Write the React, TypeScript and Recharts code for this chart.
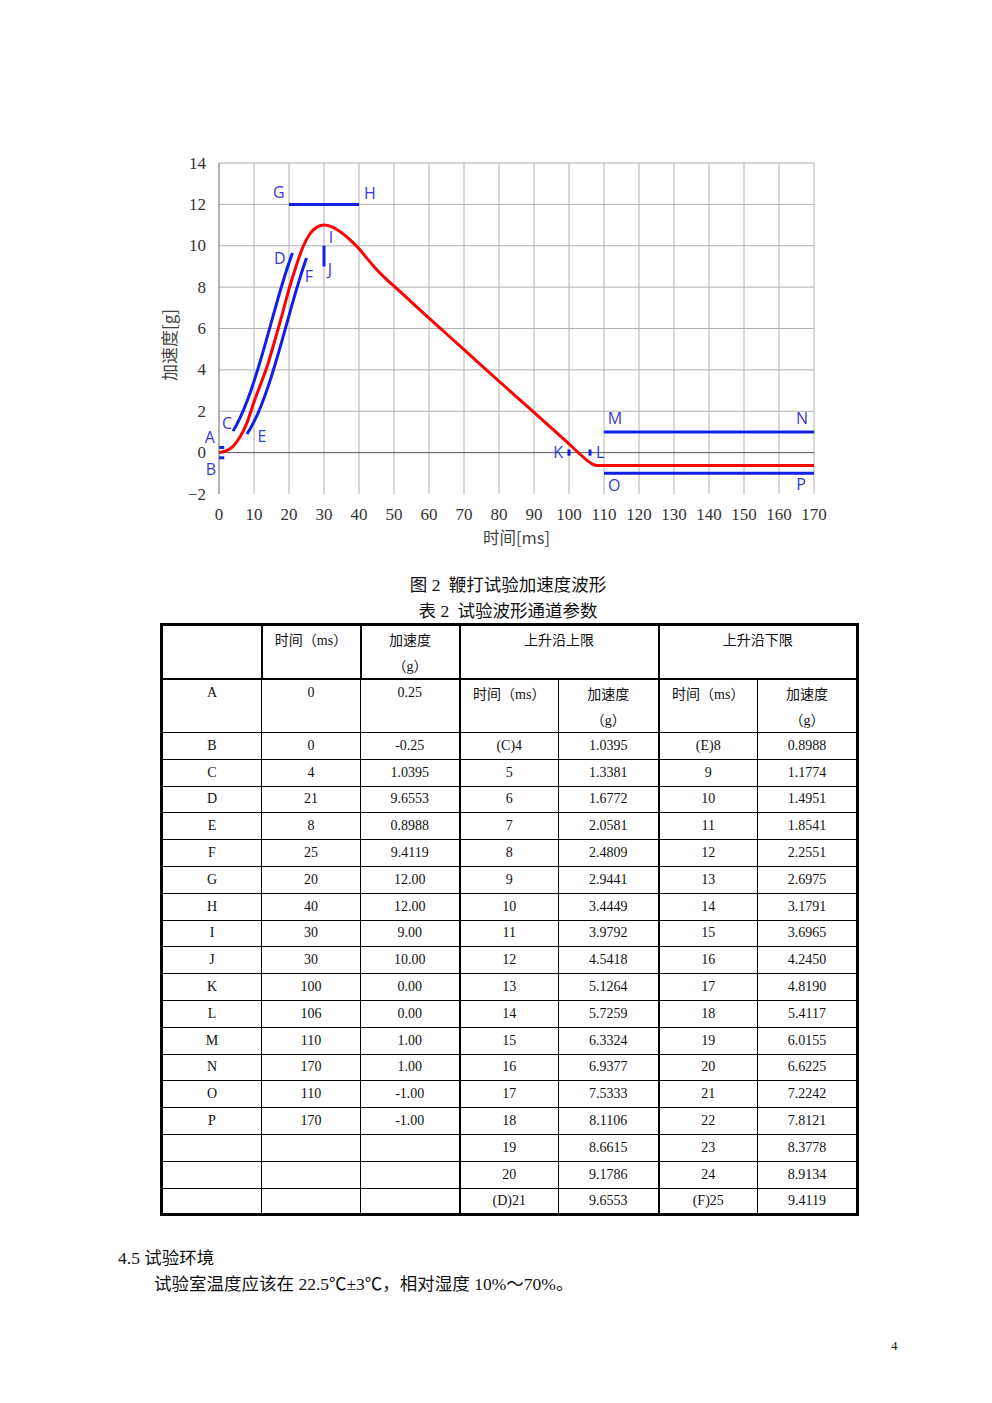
import React from "react";
import { LineChart, Line, XAxis, YAxis, ReferenceLine, ReferenceDot } from "recharts";

// axis ticks
const xTicks = [0, 10, 20, 30, 40, 50, 60, 70, 80, 90, 100, 110, 120, 130, 140, 150, 160, 170];
const yTicks = [-2, 0, 2, 4, 6, 8, 10, 12, 14];

// channel points (table 2)
const pointNames = ["A", "B", "C", "D", "E", "F", "G", "H", "I", "J", "K", "L", "M", "N", "O", "P"];
const pointTimes = [0, 0, 4, 21, 8, 25, 20, 40, 30, 30, 100, 106, 110, 170, 110, 170];
const pointAccels = ["0.25", "-0.25", "1.0395", "9.6553", "0.8988", "9.4119", "12.00", "12.00", "9.00", "10.00", "0.00", "0.00", "1.00", "1.00", "-1.00", "-1.00"];

// rising edge upper limit (C -> D)
const upperTimes = [4, 5, 6, 7, 8, 9, 10, 11, 12, 13, 14, 15, 16, 17, 18, 19, 20, 21];
const upperAccels = ["1.0395", "1.3381", "1.6772", "2.0581", "2.4809", "2.9441", "3.4449", "3.9792", "4.5418", "5.1264", "5.7259", "6.3324", "6.9377", "7.5333", "8.1106", "8.6615", "9.1786", "9.6553"];

// rising edge lower limit (E -> F)
const lowerTimes = [8, 9, 10, 11, 12, 13, 14, 15, 16, 17, 18, 19, 20, 21, 22, 23, 24, 25];
const lowerAccels = ["0.8988", "1.1774", "1.4951", "1.8541", "2.2551", "2.6975", "3.1791", "3.6965", "4.2450", "4.8190", "5.4117", "6.0155", "6.6225", "7.2242", "7.8121", "8.3778", "8.9134", "9.4119"];

const waveTimes = [0, 2, 4, 6, 8, 10, 12, 14, 16, 18, 20, 22, 24, 26, 28, 30, 32, 34, 36, 38, 40, 42, 44, 46, 48, 50, 60, 70, 80, 90, 100, 103, 105, 106, 107, 108, 110, 170];
const waveAccels = [0, 0.08, 0.3, 0.75, 1.45, 2.45, 3.35, 4.3, 5.45, 6.65, 7.9, 9.0, 9.95, 10.58, 10.9, 11.0, 10.93, 10.75, 10.5, 10.2, 9.85, 9.45, 9.05, 8.68, 8.35, 8.05, 6.5, 4.98, 3.45, 1.95, 0.42, -0.05, -0.35, -0.48, -0.58, -0.62, -0.62, -0.62];

const BLUE = "#1020e6";
const LABEL_BLUE = "#3a3ad0";
const RED = "#ff0000";
const GRID = "#b0b0b0";

const pt = (name: string) => {
  const i = pointNames.indexOf(name);
  return { x: pointTimes[i], y: parseFloat(pointAccels[i]) };
};
const series = (ts: number[], vs: (string | number)[]) => ts.map((t, i) => ({ x: t, y: Number(vs[i]) }));

const wave = series(waveTimes, waveAccels);
const upper = series(upperTimes, upperAccels);
const lower = series(lowerTimes, lowerAccels);
const seg = (a: string, b: string) => [pt(a), pt(b)];
const hTick = (n: string) => [pt(n), { x: pt(n).x + 1.5, y: pt(n).y }];
const vTick = (n: string) => [{ x: pt(n).x, y: -0.15 }, { x: pt(n).x, y: 0.15 }];

const blueSegments = [
  seg("G", "H"), seg("I", "J"), seg("M", "N"), seg("O", "P"),
  hTick("A"), hTick("B"), vTick("K"), vTick("L"), upper, lower,
];

// letter placement (data units)
const labelPos: Record<string, [number, number]> = {
  A: [-2.6, 0.77], B: [-2.3, -0.77], C: [2.3, 1.45], D: [17.4, 9.4], E: [12.3, 0.82], F: [25.7, 8.55],
  G: [17.1, 12.6], H: [43.1, 12.56], I: [32, 10.43], J: [31.7, 8.9], K: [96.9, 0.05], L: [108.9, 0.05],
  M: [113.1, 1.69], N: [166.6, 1.69], O: [112.9, -1.55], P: [166.3, -1.5],
};

const tickStyle: React.CSSProperties = { fontFamily: "'Liberation Serif', serif", fontSize: 17 };

const XTick = (p: any) => (
  <text x={p.x} y={p.y + 20} textAnchor="middle" dominantBaseline="central" fill="#333" style={tickStyle}>
    {p.payload.value}
  </text>
);
const YTick = (p: any) => (
  <text x={p.x - 13} y={p.y} textAnchor="end" dominantBaseline="central" fill="#333" style={tickStyle}>
    {p.payload.value < 0 ? "\u2212" + Math.abs(p.payload.value) : p.payload.value}
  </text>
);

function WaveChart() {
  return (
    <LineChart width={700} height={414} margin={{ top: 23, right: 36, left: 0, bottom: 0 }}>
      <XAxis
        type="number"
        dataKey="x"
        domain={[0, 170]}
        ticks={xTicks}
        axisLine={false}
        tickLine={false}
        tickSize={0}
        tickMargin={0}
        height={60}
        tick={XTick}
        interval={0}
        label={{
          content: (props: any) => (
            <text x={props.viewBox.x + props.viewBox.width / 2} y={props.viewBox.y + 43} textAnchor="middle"
              dominantBaseline="central" fill="#444" style={{ fontFamily: "'Noto Sans CJK SC', sans-serif", fontSize: 16.5 }}>
              时间[ms]
            </text>
          ),
        }}
      />
      <YAxis
        type="number"
        dataKey="y"
        domain={[-2, 14]}
        ticks={yTicks}
        width={69}
        axisLine={{ stroke: "#666", strokeWidth: 1 }}
        tickLine={false}
        tickSize={0}
        tickMargin={0}
        tick={YTick}
        interval={0}
        label={{
          content: () => (
            <text x={18} y={205} transform="rotate(-90 18 205)" textAnchor="middle" dominantBaseline="central"
              fill="#444" style={{ fontFamily: "'Noto Sans CJK SC', sans-serif", fontSize: 17 }}>
              加速度[g]
            </text>
          ),
        }}
      />
      {xTicks.filter((v) => v > 0).map((v) => (
        <ReferenceLine key={"gx" + v} x={v} stroke={GRID} strokeWidth={1} />
      ))}
      {yTicks.filter((v) => v > 0).map((v) => (
        <ReferenceLine key={"gy" + v} y={v} stroke={GRID} strokeWidth={1} />
      ))}
      <ReferenceLine y={0} stroke="#555" strokeWidth={1} />

      {blueSegments.map((d, i) => (
        <Line key={"b" + i} data={d} dataKey="y" type="linear" stroke={BLUE} strokeWidth={3}
          dot={false} activeDot={false} isAnimationActive={false} />
      ))}
      <Line data={wave} dataKey="y" type="monotone" stroke={RED} strokeWidth={3}
        dot={false} activeDot={false} isAnimationActive={false} />

      {pointNames.map((n) => (
        <ReferenceDot key={"l" + n} x={labelPos[n][0]} y={labelPos[n][1]} r={0} ifOverflow="visible"
          shape={(p: any) => (
            <text x={p.cx} y={p.cy} textAnchor="middle" dominantBaseline="central" fill={LABEL_BLUE}
              style={{ fontFamily: "'Open Sans', sans-serif", fontSize: 16 }}>
              {n}
            </text>
          )}
        />
      ))}
    </LineChart>
  );
}

const serif = "'Liberation Serif', 'Noto Sans CJK SC', serif";
const cjk = "'Noto Sans CJK SC', sans-serif";
const colW = [100, 99, 99, 99, 100, 99, 100];
const thick = "2px solid #000";

const cell = (extra: React.CSSProperties = {}): React.CSSProperties => ({
  border: "1px solid #000",
  textAlign: "center",
  padding: 0,
  fontFamily: serif,
  fontSize: 14,
  color: "#111",
  overflow: "hidden",
  ...extra,
});

// one line of header text, fixed height so mixed fonts don't grow the row
const L = ({ children }: { children: React.ReactNode }) => (
  <div style={{ height: 26, lineHeight: "26px", whiteSpace: "nowrap" }}>{children}</div>
);
const TimeHead = () => (
  <L><span style={{ fontFamily: cjk }}>时间（</span>ms<span style={{ fontFamily: cjk }}>）</span></L>
);
const AccHead = () => (
  <>
    <L><span style={{ fontFamily: cjk }}>加速度</span></L>
    <L><span style={{ fontFamily: cjk }}>（</span>g<span style={{ fontFamily: cjk }}>）</span></L>
  </>
);

function ParamTable() {
  const top: React.CSSProperties = { verticalAlign: "top", paddingTop: 0 };
  const rows = upperTimes.map((t, i) => {
    const pi = i + 1; // points B..P
    const hasPoint = pi < pointNames.length;
    const up = (i === 0 ? "(C)" : i === upperTimes.length - 1 ? "(D)" : "") + t;
    const lo = (i === 0 ? "(E)" : i === lowerTimes.length - 1 ? "(F)" : "") + lowerTimes[i];
    return (
      <tr key={i} style={{ height: 26.8 }}>
        <td style={cell()}>{hasPoint ? pointNames[pi] : ""}</td>
        <td style={cell()}>{hasPoint ? pointTimes[pi] : ""}</td>
        <td style={cell({ borderRight: thick })}>{hasPoint ? pointAccels[pi] : ""}</td>
        <td style={cell()}>{up}</td>
        <td style={cell({ borderRight: thick })}>{upperAccels[i]}</td>
        <td style={cell()}>{lo}</td>
        <td style={cell()}>{lowerAccels[i]}</td>
      </tr>
    );
  });
  return (
    <table style={{ position: "absolute", left: 160, top: 623, borderCollapse: "collapse", border: "3px solid #000", tableLayout: "fixed", width: 697 }}>
      <colgroup>
        {colW.map((w, i) => <col key={i} style={{ width: w }} />)}
      </colgroup>
      <tbody>
        <tr style={{ height: 53 }}>
          <td style={cell({ borderBottom: thick, borderRight: thick })}></td>
          <td style={cell({ ...top, borderBottom: thick, borderRight: thick })}><TimeHead /></td>
          <td style={cell({ ...top, borderBottom: thick, borderRight: thick })}><AccHead /></td>
          <td colSpan={2} style={cell({ ...top, borderBottom: thick, borderRight: thick })}><L><span style={{ fontFamily: cjk }}>上升沿上限</span></L></td>
          <td colSpan={2} style={cell({ ...top, borderBottom: thick })}><L><span style={{ fontFamily: cjk }}>上升沿下限</span></L></td>
        </tr>
        <tr style={{ height: 53 }}>
          <td style={cell(top)}><L>{pointNames[0]}</L></td>
          <td style={cell(top)}><L>{pointTimes[0]}</L></td>
          <td style={cell({ ...top, borderRight: thick })}><L>{pointAccels[0]}</L></td>
          <td style={cell(top)}><TimeHead /></td>
          <td style={cell({ ...top, borderRight: thick })}><AccHead /></td>
          <td style={cell(top)}><TimeHead /></td>
          <td style={cell(top)}><AccHead /></td>
        </tr>
        {rows}
      </tbody>
    </table>
  );
}

export default function App() {
  const text: React.CSSProperties = { position: "absolute", whiteSpace: "nowrap", color: "#111", fontFamily: serif, fontSize: 17.5, lineHeight: "20px" };
  return (
    <div style={{ position: "relative", width: 992, height: 1403, background: "#fff" }}>
      <style>{"body{margin:0}"}</style>
      <div style={{ position: "absolute", left: 150, top: 140 }}>
        <WaveChart />
      </div>
      <div style={{ ...text, left: 0, width: 1016, textAlign: "center", top: 574 }}>
        <span style={{ fontFamily: cjk }}>图</span> 2 <span style={{ fontFamily: cjk }}>&nbsp;鞭打试验加速度波形</span>
      </div>
      <div style={{ ...text, left: 0, width: 1016, textAlign: "center", top: 600 }}>
        <span style={{ fontFamily: cjk }}>表</span> 2 <span style={{ fontFamily: cjk }}>&nbsp;试验波形通道参数</span>
      </div>
      <ParamTable />
      <div style={{ ...text, left: 118, top: 1247 }}>
        4.5 <span style={{ fontFamily: cjk }}>试验环境</span>
      </div>
      <div style={{ ...text, left: 154, top: 1273 }}>
        <span style={{ fontFamily: cjk }}>试验室温度应该在</span> 22.5℃±3℃<span style={{ fontFamily: cjk }}>，相对湿度</span> 10%～70%<span style={{ fontFamily: cjk }}>。</span>
      </div>
      <div style={{ ...text, left: 891, top: 1336, fontSize: 13 }}>4</div>
    </div>
  );
}
